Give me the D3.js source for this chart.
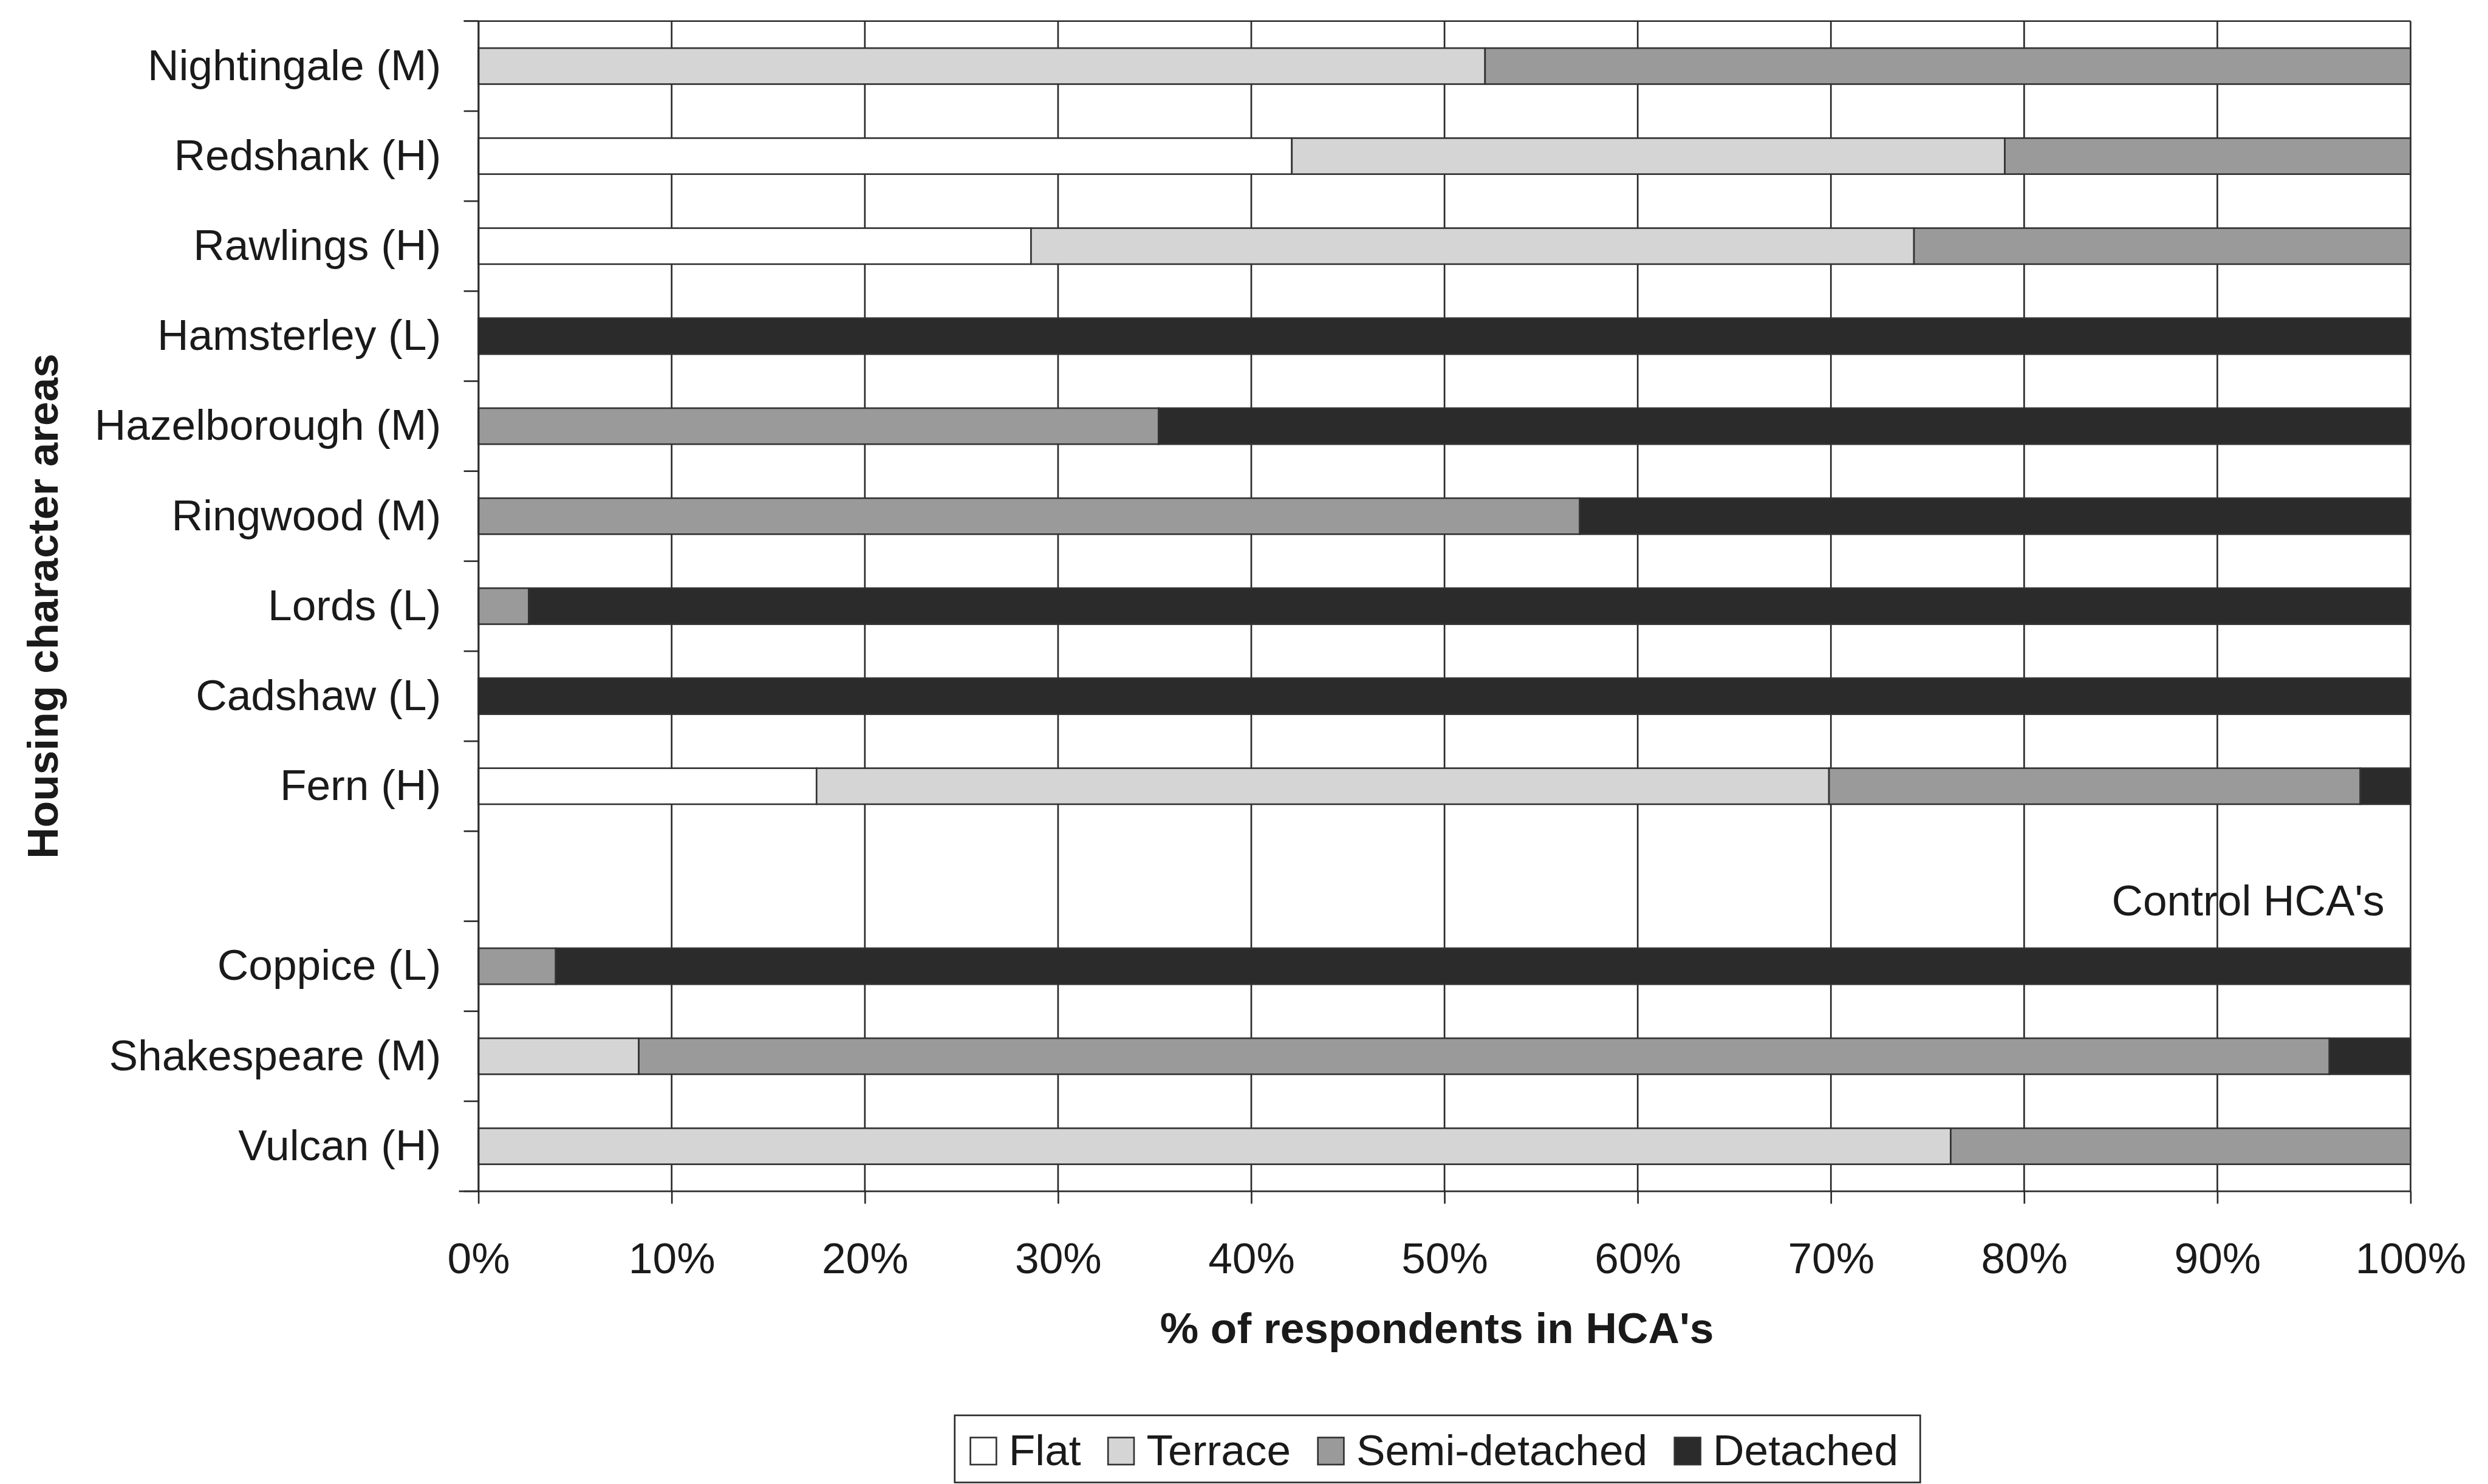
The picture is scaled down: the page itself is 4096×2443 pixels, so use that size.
<!DOCTYPE html>
<html>
<head>
<meta charset="utf-8">
<script src="https://cdn.jsdelivr.net/npm/d3@7"></script>
<style>
  html, body { margin: 0; padding: 0; background: #fff; }
  svg { display: block; }
  text { font-family: "Liberation Sans", Arial, Helvetica, sans-serif; fill: #1a1a1a; }
</style>
</head>
<body>
<script>
// Housing type of respondents in each housing character area (HCA), percent
const categories = ["Nightingale (M)", "Redshank (H)", "Rawlings (H)", "Hamsterley (L)",
  "Hazelborough (M)", "Ringwood (M)", "Lords (L)", "Cadshaw (L)", "Fern (H)", "",
  "Coppice (L)", "Shakespeare (M)", "Vulcan (H)"];
const seriesNames = ["Flat", "Terrace", "Semi-detached", "Detached"];
const flat     = [0,    42.1, 28.6, 0,   0,    0,    0,    0,   17.5, 0, 0,    0,    0];
const terrace  = [52.1, 36.9, 45.7, 0,   0,    0,    0,    0,   52.4, 0, 0,    8.3,  76.2];
const semi     = [47.9, 21.0, 25.7, 0,   35.2, 57.0, 2.6,  0,   27.5, 0, 4.0,  87.5, 23.8];
const detached = [0,    0,    0,    100, 64.8, 43.0, 97.4, 100, 2.6,  0, 96.0, 4.2,  0];
const xTicks = [0, 10, 20, 30, 40, 50, 60, 70, 80, 90, 100];
const controlNote = "Control HCA's";

const W = 4096, H = 2443, S = 0.891;
const colors = { "Flat": "#ffffff", "Terrace": "#d5d5d5", "Semi-detached": "#9a9a9a", "Detached": "#2b2b2b" };

const rows = categories.map((c, i) => ({
  cat: c, "Flat": flat[i], "Terrace": terrace[i], "Semi-detached": semi[i], "Detached": detached[i]
}));

const svg = d3.select("body").append("svg").attr("width", W).attr("height", H);
const g = svg.append("g").attr("transform", `scale(${S})`);

// plot frame in the chart's own units
const pLeft = 884, pRight = 4454, pTop = 39, pBottom = 2201;

const x = d3.scaleLinear().domain([0, 100]).range([pLeft, pRight]);
const y = d3.scaleBand().domain(categories).range([pTop, pBottom])
  .paddingInner(0.6).paddingOuter(0.3);

const ink = "#2a2a2a";

// vertical gridlines
g.append("g").selectAll("line").data(xTicks).join("line")
  .attr("x1", d => x(d)).attr("x2", d => x(d))
  .attr("y1", pTop).attr("y2", pBottom)
  .attr("stroke", ink).attr("stroke-width", 3);

// top border
g.append("line").attr("x1", pLeft - 27).attr("x2", pRight).attr("y1", pTop).attr("y2", pTop)
  .attr("stroke", ink).attr("stroke-width", 3);

// stacked bars
const stack = d3.stack().keys(seriesNames);
const layers = stack(rows);
g.append("g").selectAll("g").data(layers).join("g")
  .attr("fill", d => colors[d.key])
  .selectAll("rect").data(d => d.filter(s => s[1] - s[0] > 0)).join("rect")
  .attr("x", d => x(d[0]))
  .attr("width", d => x(d[1]) - x(d[0]))
  .attr("y", d => y(d.data.cat))
  .attr("height", y.bandwidth())
  .attr("stroke", "#333").attr("stroke-width", 3);

// x axis
const xAxis = d3.axisBottom(x).tickValues(xTicks).tickFormat(d => d + "%")
  .tickSize(23).tickPadding(72);
const xa = g.append("g").attr("transform", `translate(0,${pBottom})`).call(xAxis);
xa.select(".domain").attr("stroke", ink).attr("stroke-width", 3)
  .attr("d", `M${pLeft - 36},0H${pRight}`);
xa.selectAll(".tick line").attr("stroke", ink).attr("stroke-width", 3);
xa.selectAll(".tick text").attr("font-size", 80).attr("fill", "#1a1a1a")
  .attr("font-family", "Liberation Sans, Arial, sans-serif");

// y axis: labels at band centres, ticks at band boundaries
const yAxis = d3.axisLeft(y).tickSize(0).tickPadding(pLeft - 815);
const ya = g.append("g").attr("transform", `translate(${pLeft},0)`).call(yAxis);
ya.select(".domain").attr("stroke", ink).attr("stroke-width", 3);
ya.selectAll(".tick text").attr("font-size", 80).attr("fill", "#1a1a1a")
  .attr("dy", "0.32em").attr("font-family", "Liberation Sans, Arial, sans-serif");

const bounds = d3.range(categories.length + 1).map(i => pTop + i * y.step());
g.append("g").selectAll("line").data(bounds).join("line")
  .attr("x1", pLeft - 27).attr("x2", pLeft)
  .attr("y1", d => d).attr("y2", d => d)
  .attr("stroke", ink).attr("stroke-width", 3);

// note above the control areas
g.append("text").attr("x", 4406).attr("y", 1691).attr("text-anchor", "end")
  .attr("font-size", 80).text(controlNote);

// axis titles
g.append("text").attr("x", (pLeft + pRight) / 2 - 14).attr("y", 2482)
  .attr("text-anchor", "middle").attr("font-size", 80).attr("font-weight", "bold")
  .text("% of respondents in HCA's");
g.append("text").attr("transform", `translate(107,${(pTop + pBottom) / 2}) rotate(-90)`)
  .attr("text-anchor", "middle").attr("font-size", 80).attr("font-weight", "bold")
  .text("Housing character areas");

// legend
const lg = g.append("g");
lg.append("rect").attr("x", 1764).attr("y", 2615).attr("width", 1784).attr("height", 124)
  .attr("fill", "#fff").attr("stroke", ink).attr("stroke-width", 3);
let lx = 1793;
seriesNames.forEach(name => {
  lg.append("rect").attr("x", lx).attr("y", 2656).attr("width", 48).attr("height", 50)
    .attr("fill", colors[name]).attr("stroke", "#333").attr("stroke-width", 3);
  const t = lg.append("text").attr("x", lx + 71).attr("y", 2707).attr("font-size", 80).text(name);
  lx += 71 + t.node().getComputedTextLength() + 50;
});
</script>
</body>
</html>
